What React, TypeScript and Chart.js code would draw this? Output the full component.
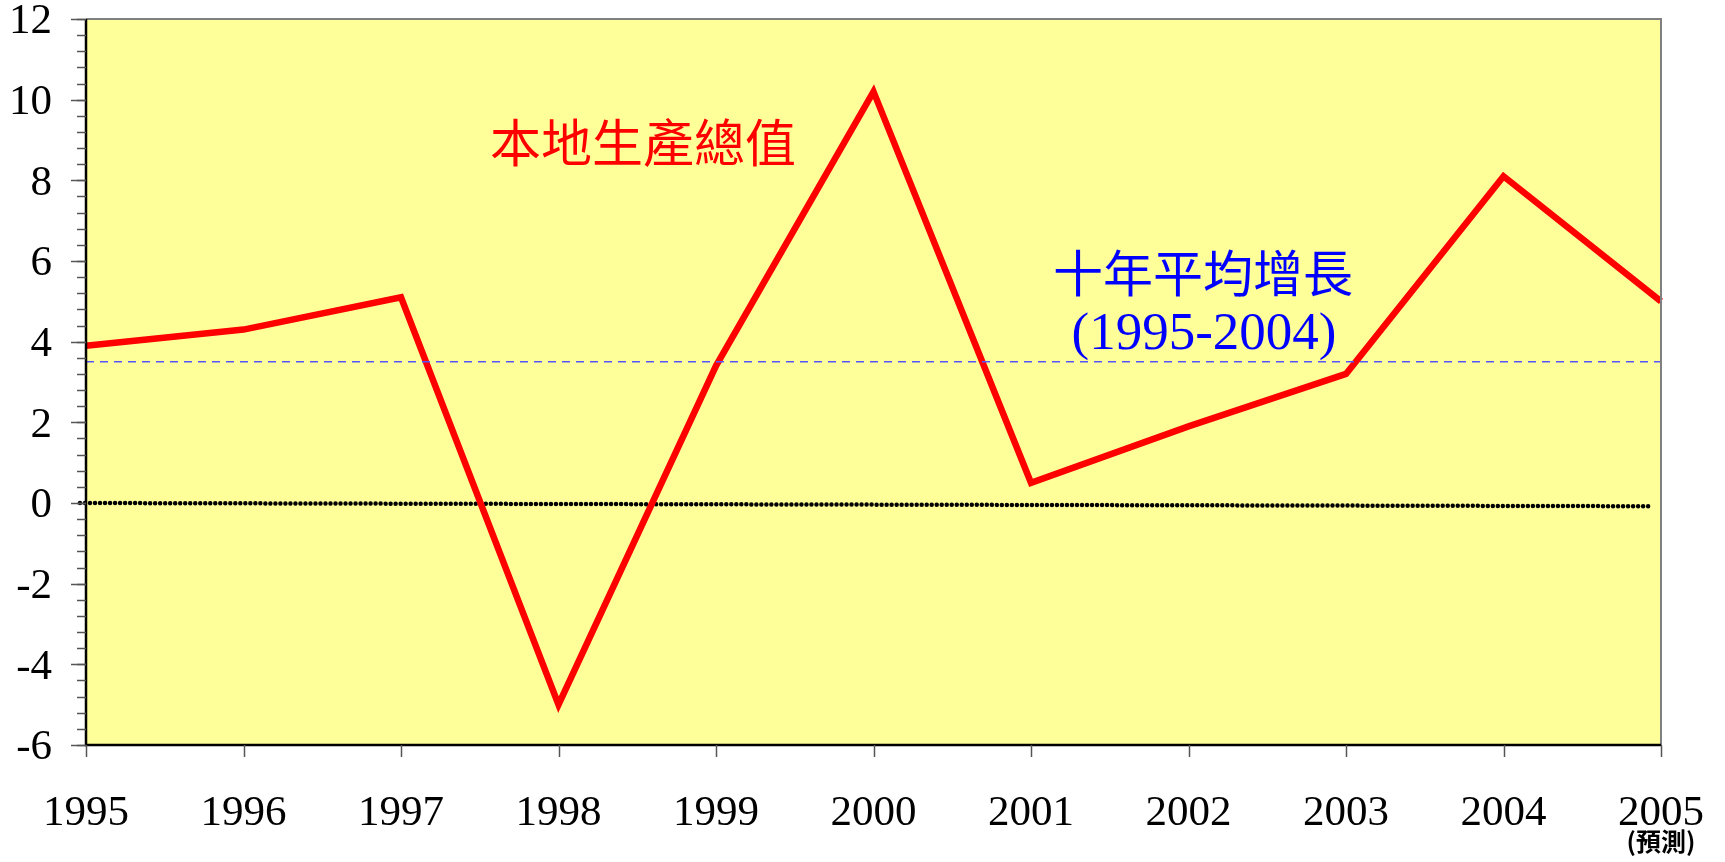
import React, { useEffect, useRef } from "react";
import { Chart, registerables } from "chart.js";

Chart.register(...registerables);

const years = ["1995", "1996", "1997", "1998", "1999", "2000", "2001", "2002", "2003", "2004", "2005"];
const gdpGrowth = [3.9, 4.3, 5.1, -5.0, 3.4, 10.2, 0.5, 1.9, 3.2, 8.1, 5.0];
const tenYearAverage = [3.5, 3.5, 3.5, 3.5, 3.5, 3.5, 3.5, 3.5, 3.5, 3.5, 3.5];
const zeroLine = [0, -0.08];
const yMajorTicks = [-6, -4, -2, 0, 2, 4, 6, 8, 10, 12];
const yMinorStep = 0.4;
const gdpLabel = "本地生產總值";
const avgLabel = ["十年平均增長", "(1995-2004)"];
const forecastNote = "(預測)";

const SERIF = "'Liberation Serif', 'Times New Roman', serif";
const CJK = "'Noto Sans CJK TC', 'Noto Sans CJK SC', sans-serif";

const decorPlugin = {
  id: "decor",
  beforeDatasetsDraw(chart: any) {
    const { ctx, chartArea: a, scales } = chart;
    const y = scales.y;
    ctx.save();
    ctx.fillStyle = "#FFFF99";
    ctx.fillRect(a.left, a.top, a.right - a.left, a.bottom - a.top);
    // dotted zero line
    ctx.strokeStyle = "#000";
    ctx.lineWidth = 4.5;
    ctx.lineCap = "round";
    ctx.setLineDash([0.01, 5]);
    ctx.beginPath();
    ctx.moveTo(a.left - 6, y.getPixelForValue(zeroLine[0]));
    ctx.lineTo(a.right - 9, y.getPixelForValue(zeroLine[1]));
    ctx.stroke();
    ctx.restore();
  },
  afterDatasetsDraw(chart: any) {
    const { ctx, chartArea: a, scales } = chart;
    const x = scales.x;
    const y = scales.y;
    ctx.save();
    // borders
    ctx.lineCap = "butt";
    ctx.strokeStyle = "#808080";
    ctx.lineWidth = 2;
    ctx.beginPath();
    ctx.moveTo(a.left, a.top);
    ctx.lineTo(a.right, a.top);
    ctx.lineTo(a.right, a.bottom);
    ctx.stroke();
    ctx.strokeStyle = "#000";
    ctx.lineWidth = 2.5;
    ctx.beginPath();
    ctx.moveTo(a.left, a.top);
    ctx.lineTo(a.left, a.bottom);
    ctx.lineTo(a.right, a.bottom);
    ctx.stroke();
    // y ticks
    ctx.strokeStyle = "#555";
    ctx.lineWidth = 1.5;
    const n = Math.round((12 - -6) / yMinorStep);
    for (let i = 0; i <= n; i++) {
      const v = -6 + i * yMinorStep;
      const py = Math.round(y.getPixelForValue(v)) + 0.5;
      ctx.beginPath();
      ctx.moveTo(a.left - 9, py);
      ctx.lineTo(a.left, py);
      ctx.stroke();
    }
    yMajorTicks.forEach((v) => {
      const py = Math.round(y.getPixelForValue(v)) + 0.5;
      ctx.beginPath();
      ctx.moveTo(a.left - 15, py);
      ctx.lineTo(a.left, py);
      ctx.stroke();
    });
    // x ticks
    years.forEach((_, i) => {
      const px = Math.round(x.getPixelForValue(i)) + 0.5;
      ctx.beginPath();
      ctx.moveTo(px, a.bottom);
      ctx.lineTo(px, a.bottom + 12);
      ctx.stroke();
    });
    // y labels
    ctx.fillStyle = "#000";
    ctx.font = `43px ${SERIF}`;
    ctx.textAlign = "right";
    ctx.textBaseline = "middle";
    yMajorTicks.forEach((v) => {
      ctx.fillText(String(v), a.left - 34, y.getPixelForValue(v) + 3);
    });
    // x labels
    ctx.textAlign = "center";
    years.forEach((lab, i) => {
      ctx.fillText(lab, x.getPixelForValue(i), a.bottom + 69);
    });
    ctx.font = `bold 25px ${CJK}`;
    ctx.fillText(forecastNote, x.getPixelForValue(years.length - 1), a.bottom + 96);
    // annotations
    ctx.font = `51px ${CJK}`;
    ctx.fillStyle = "#FF0000";
    ctx.fillText(gdpLabel, a.left + 557, a.top + 124);
    ctx.font = `50px ${CJK}`;
    ctx.fillStyle = "#0000FF";
    ctx.fillText(avgLabel[0], a.left + 1117, a.top + 254);
    ctx.font = `53px ${SERIF}`;
    ctx.fillText(avgLabel[1], a.left + 1118, a.top + 316);
    ctx.restore();
  },
};

export default function App() {
  const ref = useRef<HTMLCanvasElement>(null);
  useEffect(() => {
    if (!ref.current) return;
    const chart = new Chart(ref.current, {
      type: "line",
      data: {
        labels: years,
        datasets: [
          {
            data: tenYearAverage,
            borderColor: "#5555FF",
            borderWidth: 1.5,
            borderDash: [8, 6],
            pointRadius: 0,
            fill: false,
          },
          {
            data: gdpGrowth,
            borderColor: "#FF0000",
            borderWidth: 6.5,
            borderJoinStyle: "miter",
            pointRadius: 0,
            fill: false,
            tension: 0,
          },
        ],
      },
      options: {
        responsive: false,
        animation: false,
        devicePixelRatio: 1,
        layout: { padding: { left: 86, top: 19, right: 64, bottom: 117 } },
        plugins: { legend: { display: false }, tooltip: { enabled: false } },
        scales: {
          x: {
            type: "category",
            offset: false,
            grid: { display: false },
            border: { display: false },
            ticks: { display: false },
            afterFit: (s: any) => {
              s.height = 0;
              s.paddingLeft = 0;
              s.paddingRight = 0;
            },
          },
          y: {
            type: "linear",
            min: -6,
            max: 12,
            grid: { display: false },
            border: { display: false },
            ticks: { display: false },
            afterFit: (s: any) => {
              s.width = 0;
              s.paddingTop = 0;
              s.paddingBottom = 0;
            },
          },
        },
      },
      plugins: [decorPlugin],
    });
    return () => chart.destroy();
  }, []);
  return (
    <div style={{ position: "fixed", left: 0, top: 0, width: 1725, height: 862, background: "#fff" }}>
      <canvas ref={ref} width={1725} height={862} style={{ width: 1725, height: 862 }} />
    </div>
  );
}
